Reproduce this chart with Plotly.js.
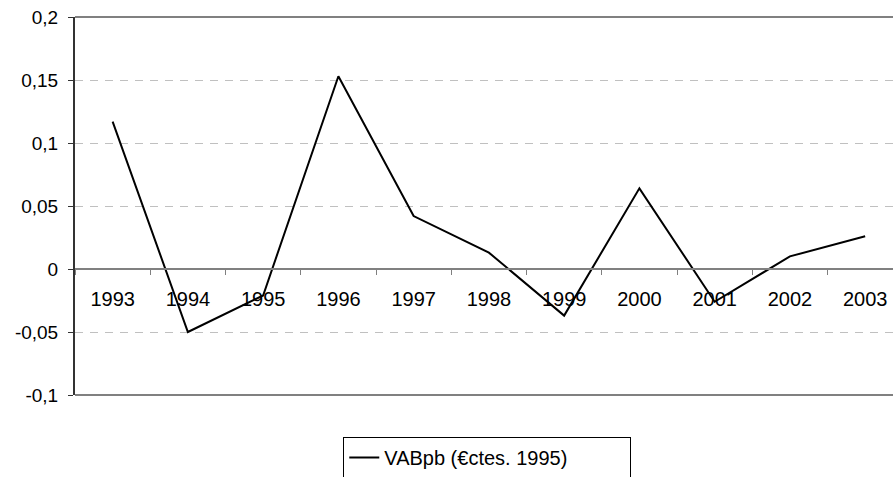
<!DOCTYPE html>
<html>
<head>
<meta charset="utf-8">
<script src="https://cdn.plot.ly/plotly-3.0.1.min.js"></script>
<style>
  html, body { margin: 0; padding: 0; background: #fff; }
</style>
</head>
<body>
<div id="chart"></div>
<script>
// Years on the category axis
const years = ["1993", "1994", "1995", "1996", "1997", "1998", "1999", "2000", "2001", "2002", "2003"];
// VABpb growth (constant 1995 euros)
const vabpb = [0.117, -0.050, -0.021, 0.153, 0.042, 0.013, -0.037, 0.064, -0.026, 0.010, 0.026];
// Y tick labels (decimal comma, plain hyphen)
const yTickVals = [-0.1, -0.05, 0, 0.05, 0.1, 0.15, 0.2];
const yTickText = ["-0,1", "-0,05", "0", "0,05", "0,1", "0,15", "0,2"];

const vabTrace = {
  x: years,
  y: vabpb,
  name: "VABpb (\u20acctes. 1995)",
  mode: "lines",
  line: { color: "#000", width: 2 }
};

const layout = {
  width: 893,
  height: 477,
  margin: { l: 75, r: 0, t: 17, b: 82, autoexpand: false },
  paper_bgcolor: "#fff",
  plot_bgcolor: "#fff",
  font: { family: "Liberation Sans, Arial, sans-serif", size: 19, color: "#000" },
  xaxis: {
    type: "category",
    range: [-0.5, 10.37],
    anchor: "free",
    position: 1 / 3,
    showline: true,
    linecolor: "#808080",
    linewidth: 2,
    showgrid: false,
    zeroline: false,
    ticks: "outside",
    tickson: "boundaries",
    ticklen: 5,
    tickcolor: "#808080",
    tickfont: { size: 20 },
    ticklabelstandoff: 12
  },
  yaxis: {
    range: [-0.1, 0.2],
    tickvals: yTickVals,
    ticktext: yTickText,
    showline: true,
    linecolor: "#333",
    linewidth: 2,
    ticks: "outside",
    ticklen: 5,
    tickcolor: "#333",
    tickfont: { size: 19 },
    showgrid: true,
    gridcolor: "#c0c0c0",
    griddash: "8px,7px",
    gridwidth: 1,
    zeroline: false,
    ticklabelstandoff: 6
  },
  shapes: [
    { type: "line", xref: "paper", yref: "paper", x0: 0, x1: 1, y0: 1, y1: 1,
      line: { color: "#808080", width: 2 } },
    { type: "line", xref: "paper", yref: "paper", x0: 0, x1: 1, y0: 0, y1: 0,
      line: { color: "#808080", width: 2 } }
  ],
  showlegend: true,
  legend: {
    orientation: "h",
    x: 0.504,
    xanchor: "center",
    y: -0.111,
    yanchor: "top",
    entrywidth: 241,
    bordercolor: "#000",
    borderwidth: 1,
    bgcolor: "#fff",
    font: { size: 20 }
  }
};

Plotly.newPlot("chart", [vabTrace], layout, { displayModeBar: false, staticPlot: true });
</script>
</body>
</html>
